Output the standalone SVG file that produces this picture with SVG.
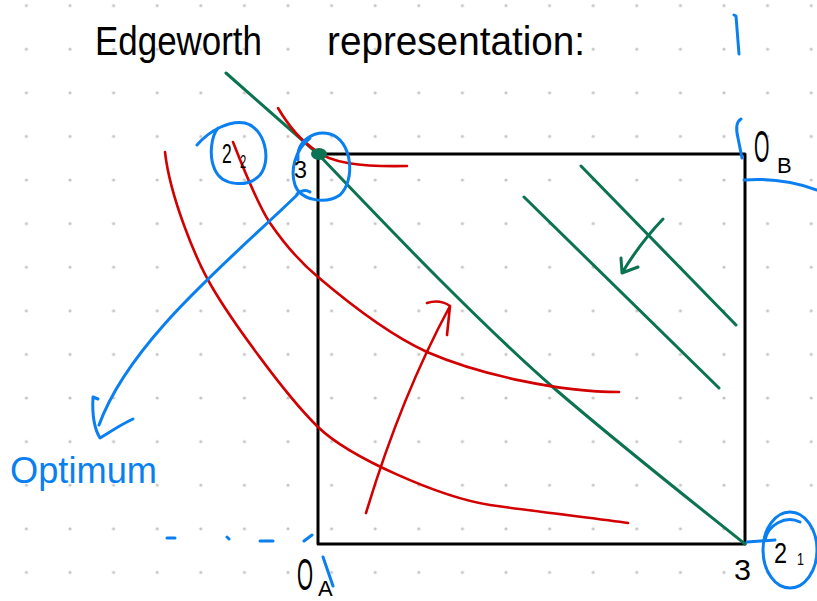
<svg xmlns="http://www.w3.org/2000/svg" width="817" height="601" viewBox="0 0 817 601">
<defs>
<pattern id="dots" x="4.6" y="-16.2" width="43.6" height="43.6" patternUnits="userSpaceOnUse">
<circle cx="21.8" cy="21.8" r="1.6" fill="#c4c4c4"/>
</pattern>
<style>
.k{fill:none;stroke:#000;stroke-width:3;stroke-linecap:round;stroke-linejoin:round}
.g{fill:none;stroke:#0b7352;stroke-width:3;stroke-linecap:round;stroke-linejoin:round}
.r{fill:none;stroke:#d20000;stroke-width:2.6;stroke-linecap:round;stroke-linejoin:round}
.b{fill:none;stroke:#0a7ff0;stroke-width:3;stroke-linecap:round;stroke-linejoin:round}
.t{font-family:"Liberation Sans",Arial,sans-serif;fill:#000}
.tb{font-family:"Liberation Sans",Arial,sans-serif;fill:#0a7ff0}
</style>
</defs>
<rect width="817" height="601" fill="#fff"/>
<rect width="817" height="601" fill="url(#dots)"/>

<g id="title">
<text class="t" font-size="40" y="55"><tspan x="95" textLength="167" lengthAdjust="spacingAndGlyphs">Edgeworth</tspan><tspan x="327" textLength="258" lengthAdjust="spacingAndGlyphs">representation:</tspan></text>
</g>

<g id="box">
<path class="k" d="M318,154 L745,154 L745,544 L318,544 Z"/>
</g>

<g id="connectors">
<!-- green budget lines -->
<path class="g" d="M226,73 L318,154 C360,198 400,240 440,280 C470,310 510,350 555,389 C620,445 690,500 745,544"/>
<path class="g" d="M581,166 L736,325"/>
<path class="g" d="M524,197 L719,388"/>
<path class="g" d="M663,219 Q640,243 622,273 M621,258 L622,273 L638,267"/>
<!-- red indifference curves -->
<path class="r" d="M278,108 C288,125 300,140 315,150 C330,163 360,167 407,166"/>
<path class="r" d="M233,142 C242,165 258,205 270,223 C285,245 300,262 318,277 C345,300 390,335 427,352 C480,375 560,392 619,392"/>
<path class="r" d="M165,152 C170,197 196,260 212,287 C230,318 285,395 318,427 C350,458 440,497 490,505 C540,512 600,519 628,523"/>
<path class="r" d="M366,513 C385,450 410,380 450,306 M427,303 Q440,299 450,306 L447,335"/>
<!-- blue annotations -->
<path class="b" d="M297,195 C230,260 130,340 99,425"/>
<path class="b" d="M98,399 L93,397 C92,415 95,430 100,438 C110,432 120,425 133,419"/>
<path class="b" d="M741,119 C736,122 736,130 738,138 L742,158"/>
<path class="b" d="M744,180 C770,178 795,182 817,190"/>
<path class="b" d="M734,15 L736,16 L739,54"/>
<path class="b" d="M167,538 L175,538 M227,537 L229,539 M260,541 L273,541 M304,541 L312,535 M323,557 L333,586"/>
</g>

<g id="dot-optimum">
<ellipse cx="319" cy="154" rx="8" ry="6" fill="#0b7352"/>
<path class="b" d="M298,160 C296,140 315,130 330,134 C352,140 356,180 340,195 C325,205 300,200 295,185 C290,170 295,150 310,138"/>
<path class="b" d="M297,194 C302,190 307,190 310,192"/>
<text class="t" font-size="24" x="294" y="178" textLength="13" lengthAdjust="spacingAndGlyphs">3</text>
</g>

<g id="z2">
<path class="b" d="M197,145 C210,130 230,120 245,123 C265,128 272,160 260,175 C248,188 222,186 215,170 C208,155 212,135 218,128"/>
<text class="t" font-size="28" x="222" y="163" textLength="16" lengthAdjust="spacingAndGlyphs">2<tspan font-size="18" x="240" y="168">2</tspan></text>
</g>

<g id="OB">
<text class="t" font-size="44" transform="translate(754,162) scale(0.45,1)">O</text>
<text class="t" font-size="22" x="777" y="173">B</text>
</g>

<g id="OA">
<text class="t" font-size="44" transform="translate(297,590) scale(0.47,1)">O</text>
<text class="t" font-size="22" x="318" y="596">A</text>
</g>

<g id="z1">
<path class="b" d="M747,542 L775,540"/>
<ellipse class="b" cx="790" cy="550" rx="27" ry="38"/>
<path class="b" d="M765,540 C768,525 785,515 800,522"/>
<text class="t" font-size="30" x="734" y="580" textLength="17" lengthAdjust="spacingAndGlyphs">3</text>
<text class="t" font-size="30" x="774" y="563" textLength="20" lengthAdjust="spacingAndGlyphs">2<tspan font-size="16" x="797" y="565">1</tspan></text>
</g>

<g id="optimum">
<text class="tb" font-size="36" x="10" y="483" textLength="147" lengthAdjust="spacingAndGlyphs">Optimum</text>
</g>
</svg>
